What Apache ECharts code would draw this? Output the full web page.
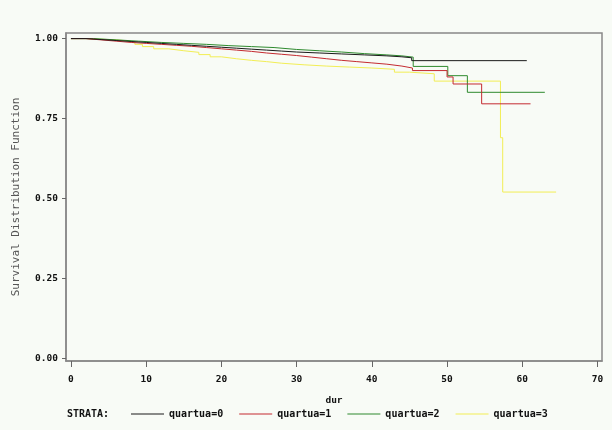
<!DOCTYPE html>
<html>
<head>
<meta charset="utf-8">
<script src="https://cdn.jsdelivr.net/npm/echarts@6/dist/echarts.min.js"></script>
<style>
html,body{margin:0;padding:0;background:#f8fbf6;}
#chart{width:612px;height:430px;}
</style>
</head>
<body>
<div id="chart"></div>
<script>
// ---- data ----
const seriesNames = ['quartua=0', 'quartua=1', 'quartua=2', 'quartua=3'];
const xTicks = [0, 10, 20, 30, 40, 50, 60, 70];
const yTicks = [0, 0.25, 0.5, 0.75, 1.0];

const q0 = [[0,1.0],[2,0.997],[4,0.994],[6,0.991],[8,0.988],[10,0.985],[12,0.982],[14,0.979],[16,0.976],[18,0.973],[20,0.970],[22,0.967],[24,0.964],[26,0.961],[28,0.958],[30,0.955],[33,0.952],[36,0.949],[39,0.946],[42,0.943],[44,0.940],[45.3,0.931],[60.6,0.931]];
const q1 = [[0,1.0],[2,0.996],[4,0.992],[6,0.988],[8,0.985],[10,0.982],[12,0.979],[14,0.976],[16,0.972],[18,0.968],[20,0.964],[22,0.960],[24,0.955],[26,0.951],[28,0.947],[30,0.942],[32,0.937],[34,0.932],[36,0.928],[38,0.924],[40,0.920],[42,0.914],[44,0.908],[45.4,0.900],[50.0,0.880],[50.8,0.858],[54.6,0.796],[61.1,0.796]];
const q2 = [[0,1.0],[3,0.996],[6,0.992],[9,0.988],[12,0.985],[15,0.982],[18,0.978],[21,0.975],[24,0.972],[27,0.966],[30,0.962],[33,0.958],[36,0.953],[39,0.949],[42,0.946],[44,0.942],[45.5,0.913],[50.1,0.884],[52.7,0.832],[63.0,0.832]];
const q3 = [[0,1.0],[2,0.998],[4,0.996],[6,0.993],[7.5,0.989],[8.5,0.982],[9.5,0.975],[11,0.968],[13,0.962],[15,0.957],[17,0.950],[18.5,0.943],[20,0.937],[22,0.932],[24,0.928],[26,0.923],[28,0.918],[31,0.914],[34,0.911],[37,0.908],[40,0.904],[43,0.895],[45,0.890],[48.3,0.867],[57.1,0.690],[57.4,0.520],[64.5,0.520]];
const seriesData = [q0, q1, q2, q3];
const seriesColors = ['#1a1a1a', '#c42a30', '#2e8a2e', '#f2ee55'];

const chart = echarts.init(document.getElementById('chart'), null, {renderer: 'canvas'});
const labelFont = {fontFamily: 'DejaVu Sans Mono', fontWeight: 'bold', fontSize: 9.5, color: '#111'};

chart.setOption({
  backgroundColor: '#f8fbf6',
  animation: false,
  grid: {left: 66, right: 10, top: 33, bottom: 69, show: true, borderColor: '#888', borderWidth: 1.5, backgroundColor: 'transparent'},
  xAxis: {
    type: 'value', min: -0.66, max: 70.6,
    name: 'dur', nameLocation: 'middle', nameGap: 35,
    nameTextStyle: labelFont,
    axisLine: {show: true, onZero: false, lineStyle: {color: '#888', width: 1.5}},
    axisTick: {show: true, length: 6, customValues: xTicks, lineStyle: {color: '#666'}},
    axisLabel: Object.assign({customValues: xTicks, margin: 14}, labelFont),
    splitLine: {show: false}
  },
  yAxis: {
    type: 'value', min: -0.0084, max: 1.0175,
    name: 'Survival Distribution Function', nameLocation: 'middle', nameGap: 44, nameRotate: 90,
    nameTextStyle: {fontFamily: 'DejaVu Sans Mono', fontSize: 11, color: '#555'},
    axisLine: {show: true, onZero: false, lineStyle: {color: '#888', width: 1.5}},
    axisTick: {show: true, length: 4, customValues: yTicks, lineStyle: {color: '#666'}},
    axisLabel: Object.assign({customValues: yTicks, margin: 8, formatter: v => v.toFixed(2)}, labelFont),
    splitLine: {show: false}
  },
  legend: {
    left: 126, top: 404, itemWidth: 33, itemHeight: 1.2, itemGap: 16, icon: 'rect',
    textStyle: Object.assign({}, labelFont, {fontSize: 10}),
    data: seriesNames
  },
  graphic: [{type: 'text', left: 67, top: 409, style: {text: 'STRATA:', fill: '#111', font: 'bold 10px "DejaVu Sans Mono"'}}],
  series: seriesNames.map((n, i) => ({
    name: n, type: 'line', step: 'end', data: seriesData[i], showSymbol: false, symbol: 'none',
    lineStyle: {color: seriesColors[i], width: 1}, itemStyle: {color: seriesColors[i]}, z: 4 - i
  }))
});
</script>
</body>
</html>
